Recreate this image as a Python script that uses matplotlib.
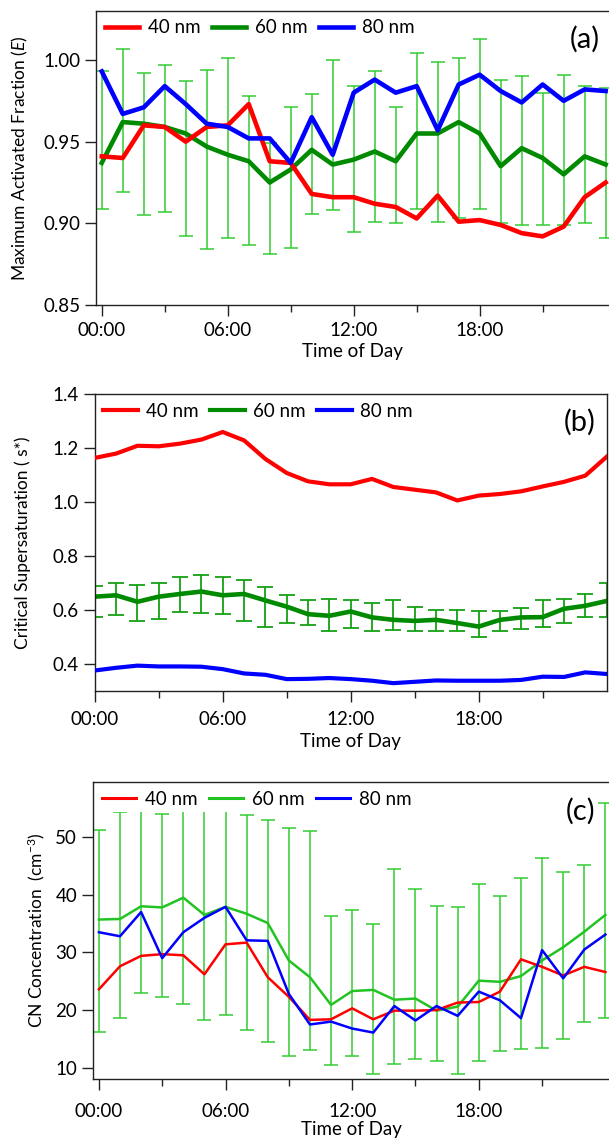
import numpy as np
import matplotlib
matplotlib.use("Agg")
import matplotlib.pyplot as plt
from matplotlib.ticker import FixedLocator, FixedFormatter


HOURS = np.arange(25)
TIME_TICKS = [0, 6, 12, 18]
TIME_LABELS = ["00:00", "06:00", "12:00", "18:00"]
SIZES = ["40 nm", "60 nm", "80 nm"]

# (a) maximum activated fraction
ef_40 = [0.941, 0.940, 0.960, 0.959, 0.950, 0.959, 0.960, 0.973, 0.938, 0.937,
         0.918, 0.916, 0.916, 0.912, 0.910, 0.903, 0.917, 0.901, 0.902, 0.899,
         0.894, 0.892, 0.898, 0.916, 0.925]
ef_60 = [0.937, 0.962, 0.961, 0.959, 0.955, 0.947, 0.942, 0.938, 0.925, 0.933,
         0.945, 0.936, 0.939, 0.944, 0.938, 0.955, 0.955, 0.962, 0.955, 0.935,
         0.946, 0.940, 0.930, 0.941, 0.936]
ef_80 = [0.993, 0.967, 0.971, 0.984, 0.973, 0.961, 0.959, 0.952, 0.952, 0.937,
         0.965, 0.942, 0.980, 0.988, 0.980, 0.984, 0.957, 0.985, 0.991, 0.981,
         0.974, 0.985, 0.975, 0.982, 0.981]
ef_60_lo = [0.909, 0.919, 0.905, 0.907, 0.892, 0.884, 0.891, 0.887, 0.881, 0.885,
            0.906, 0.908, 0.895, 0.901, 0.900, 0.909, 0.901, 0.903, 0.909, 0.900,
            0.899, 0.899, 0.899, 0.900, 0.891]
ef_60_hi = [0.993, 1.007, 0.992, 0.997, 0.987, 0.994, 1.001, 0.978, 0.949, 0.971,
            0.979, 1.000, 0.984, 0.993, 0.971, 1.004, 0.999, 1.001, 1.013, 0.988,
            0.990, 0.980, 0.991, 0.984, 0.983]

# (b) critical supersaturation
ss_40 = [1.164, 1.180, 1.209, 1.207, 1.217, 1.232, 1.260, 1.229, 1.160, 1.108,
         1.077, 1.066, 1.066, 1.086, 1.056, 1.046, 1.036, 1.006, 1.024, 1.030,
         1.040, 1.058, 1.075, 1.098, 1.168]
ss_60 = [0.649, 0.654, 0.630, 0.649, 0.659, 0.668, 0.654, 0.659, 0.635, 0.612,
         0.584, 0.578, 0.594, 0.572, 0.563, 0.559, 0.563, 0.551, 0.538, 0.563,
         0.572, 0.573, 0.604, 0.615, 0.633]
ss_80 = [0.375, 0.385, 0.393, 0.390, 0.390, 0.389, 0.380, 0.364, 0.359, 0.343,
         0.344, 0.347, 0.343, 0.337, 0.328, 0.333, 0.338, 0.337, 0.337, 0.337,
         0.340, 0.352, 0.351, 0.368, 0.362]
ss_60_lo = [0.575, 0.581, 0.559, 0.565, 0.591, 0.588, 0.585, 0.560, 0.538, 0.551,
            0.542, 0.520, 0.532, 0.523, 0.526, 0.522, 0.523, 0.520, 0.501, 0.523,
            0.528, 0.536, 0.551, 0.572, 0.573]
ss_60_hi = [0.690, 0.701, 0.691, 0.701, 0.723, 0.731, 0.721, 0.709, 0.686, 0.656,
            0.635, 0.641, 0.637, 0.625, 0.637, 0.612, 0.601, 0.601, 0.596, 0.594,
            0.606, 0.637, 0.641, 0.660, 0.698]

# (c) CN concentration
cn_40 = [23.6, 27.6, 29.4, 29.7, 29.5, 26.2, 31.4, 31.7, 25.7, 22.3,
         18.3, 18.4, 20.3, 18.4, 19.9, 19.9, 20.0, 21.3, 21.4, 23.2,
         28.8, 27.5, 26.0, 27.5, 26.6]
cn_60 = [35.7, 35.8, 38.0, 37.8, 39.5, 36.5, 37.9, 36.7, 35.1, 28.6,
         25.7, 20.9, 23.3, 23.5, 21.8, 22.0, 19.9, 20.6, 25.1, 24.9,
         25.9, 28.6, 30.9, 33.6, 36.5]
cn_80 = [33.5, 32.8, 37.0, 29.0, 33.5, 36.0, 37.9, 32.1, 32.0, 22.8,
         17.5, 18.0, 16.8, 16.1, 20.7, 18.2, 20.7, 19.0, 23.2, 21.7,
         18.6, 30.4, 25.5, 30.5, 33.1]
cn_60_lo = [16.2, 18.6, 23.0, 22.3, 21.0, 18.3, 19.1, 16.6, 14.5, 12.0,
            13.1, 10.4, 12.1, 9.0, 10.6, 11.6, 11.1, 9.0, 11.2, 12.9,
            13.2, 13.5, 14.9, 18.0, 18.7]
cn_60_hi = [51.2, 54.3, 55.0, 54.0, 55.0, 57.5, 57.5, 53.9, 52.9, 51.5,
            51.0, 36.4, 37.3, 35.0, 44.5, 41.0, 38.0, 37.9, 41.8, 39.8,
            42.9, 46.4, 44.0, 45.1, 55.9]

RED = "#ff0000"
BLUE = "#0000ff"
DARK_GREEN = "#008a00"
LIGHT_GREEN = "#33cc33"
MID_GREEN = "#14a014"

W, H = 609, 1138

plt.rcParams["font.family"] = ["Lato", "DejaVu Sans"]
plt.rcParams["mathtext.fontset"] = "custom"
plt.rcParams["mathtext.rm"] = "Lato"
plt.rcParams["mathtext.it"] = "Lato:italic"
plt.rcParams["axes.linewidth"] = 1.0
plt.rcParams["axes.edgecolor"] = "#222222"

FS = 13.5
LABEL_FS = 12.5


def px_rect(left, top, right, bottom):
    return [left / W, 1 - bottom / H, (right - left) / W, (bottom - top) / H]


def style_time_axis(ax, xlim, pad, hide_right):
    ax.set_xlim(*xlim)
    ax.xaxis.set_major_locator(FixedLocator(TIME_TICKS))
    ax.xaxis.set_major_formatter(FixedFormatter(TIME_LABELS))
    ax.xaxis.set_minor_locator(FixedLocator([3, 9, 15, 21]))
    ax.tick_params(axis="x", which="major", direction="out", length=8, width=1.0,
                   pad=pad, labelsize=FS, colors="#222222", labelcolor="black")
    ax.tick_params(axis="x", which="minor", direction="out", length=5, width=1.0,
                   colors="#222222")
    ax.tick_params(axis="y", which="major", direction="out", length=8, width=1.0,
                   pad=3.5, labelsize=FS, colors="#222222", labelcolor="black")
    if hide_right:
        ax.spines["right"].set_visible(False)


def add_legend(ax, lw, boxed=False):
    leg = ax.legend(SIZES, loc="upper left", bbox_to_anchor=(0.0, 1.0), ncol=3,
                    fontsize=FS, handlelength=1.85, handletextpad=0.45,
                    columnspacing=0.6, borderaxespad=0.2, borderpad=0.25,
                    frameon=boxed, fancybox=False)
    if boxed:
        leg.get_frame().set_facecolor("white")
        leg.get_frame().set_edgecolor("none")
        leg.get_frame().set_alpha(1.0)
    leg.set_zorder(10)
    for line in leg.get_lines():
        line.set_linewidth(lw)
    return leg


fig = plt.figure(figsize=(W / 100, H / 100), dpi=100)

# ---- (a)
ax_a = fig.add_axes(px_rect(96.3, 11, 609, 305))
lo = np.array(ef_60_lo)
hi = np.array(ef_60_hi)
mid = np.array(ef_60)
ax_a.errorbar(HOURS, ef_60, yerr=[mid - lo, hi - mid], fmt="none", ecolor=LIGHT_GREEN,
              elinewidth=1.1, capsize=5, capthick=1.1, zorder=1)
ax_a.plot(HOURS, ef_40, color=RED, lw=3.3, zorder=3)
ax_a.plot(HOURS, ef_60, color=DARK_GREEN, lw=3.3, zorder=2)
ax_a.plot(HOURS, ef_80, color=BLUE, lw=3.3, zorder=4)
ax_a.set_ylim(0.85, 1.03)
ax_a.set_yticks([0.85, 0.90, 0.95, 1.00])
ax_a.set_yticklabels(["0.85", "0.90", "0.95", "1.00"])
style_time_axis(ax_a, (-0.26, 24.16), pad=4.5, hide_right=True)
add_legend(ax_a, 3.3)
ax_a.set_ylabel("Maximum Activated Fraction ($\\it{E}$)", fontsize=LABEL_FS, va="center")
ax_a.yaxis.set_label_coords(-0.149, 0.5)
ax_a.set_xlabel("Time of Day", fontsize=FS, va="center")
ax_a.xaxis.set_label_coords(0.5, -0.159)
ax_a.text(0.953, 0.905, "(a)", transform=ax_a.transAxes, fontsize=21,
          ha="center", va="center")

# ---- (b)
ax_b = fig.add_axes(px_rect(94.8, 394.3, 606.6, 690.7))
lo = np.array(ss_60_lo)
hi = np.array(ss_60_hi)
mid = np.array(ss_60)
ax_b.errorbar(HOURS, ss_60, yerr=[mid - lo, hi - mid], fmt="none", ecolor=MID_GREEN,
              elinewidth=1.3, capsize=6, capthick=1.3, zorder=1)
ax_b.plot(HOURS, ss_40, color=RED, lw=3.0, zorder=3)
ax_b.plot(HOURS, ss_60, color=DARK_GREEN, lw=3.3, zorder=2)
ax_b.plot(HOURS, ss_80, color=BLUE, lw=3.0, zorder=4)
ax_b.set_ylim(0.3, 1.4)
ax_b.set_yticks([0.4, 0.6, 0.8, 1.0, 1.2, 1.4])
ax_b.set_yticklabels(["0.4", "0.6", "0.8", "1.0", "1.2", "1.4"])
style_time_axis(ax_b, (0, 24), pad=6.5, hide_right=False)
add_legend(ax_b, 3.0)
ax_b.set_ylabel("Critical Supersaturation ( s*)", fontsize=LABEL_FS, va="center")
ax_b.yaxis.set_label_coords(-0.141, 0.5)
ax_b.set_xlabel("Time of Day", fontsize=FS, va="center")
ax_b.xaxis.set_label_coords(0.5, -0.172)
ax_b.text(0.948, 0.906, "(b)", transform=ax_b.transAxes, fontsize=21,
          ha="center", va="center")

# ---- (c)
ax_c = fig.add_axes(px_rect(93.2, 782.3, 609, 1078.7))
lo = np.array(cn_60_lo)
hi = np.array(cn_60_hi)
mid = np.array(cn_60)
ax_c.errorbar(HOURS, cn_60, yerr=[mid - lo, hi - mid], fmt="none", ecolor=LIGHT_GREEN,
              elinewidth=1.1, capsize=5, capthick=1.1, zorder=1)
ax_c.plot(HOURS, cn_40, color=RED, lw=1.8, zorder=3)
ax_c.plot(HOURS, cn_60, color="#22c322", lw=1.8, zorder=2)
ax_c.plot(HOURS, cn_80, color=BLUE, lw=1.8, zorder=4)
ax_c.set_ylim(8.1, 59.5)
ax_c.set_yticks([10, 20, 30, 40, 50])
style_time_axis(ax_c, (-0.27, 24.17), pad=9.5, hide_right=True)
add_legend(ax_c, 2.2, boxed=True)
ax_c.set_ylabel("CN Concentration  (cm$^{-3}$)", fontsize=LABEL_FS, va="center")
ax_c.yaxis.set_label_coords(-0.111, 0.5)
ax_c.set_xlabel("Time of Day", fontsize=FS, va="center")
ax_c.xaxis.set_label_coords(0.5, -0.173)
ax_c.text(0.944, 0.902, "(c)", transform=ax_c.transAxes, fontsize=21,
          ha="center", va="center")

fig.savefig("out.png", dpi=100)
